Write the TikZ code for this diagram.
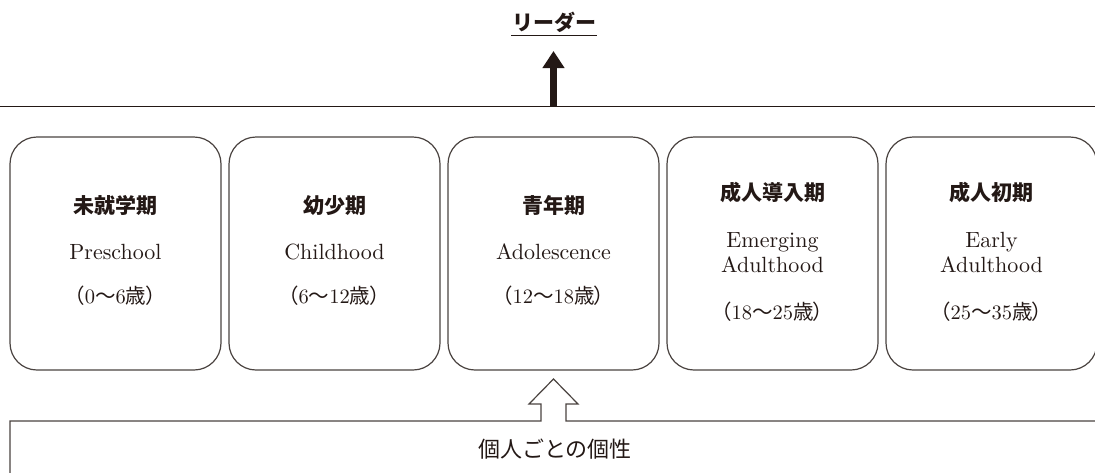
\documentclass[tikz,border=0pt]{standalone}
\usepackage{fontspec}
\usetikzlibrary{arrows.meta}
\newfontfamily\lat{lmroman10-regular}[Extension=.otf]
\newfontfamily\cjk{Noto Sans CJK JP}
\newfontfamily\cjkp[RawFeature=+palt]{Noto Sans CJK JP}
\definecolor{ink}{HTML}{231815}
\definecolor{frame}{HTML}{4A4340}
\begin{document}
\begin{tikzpicture}[x=1pt,y=-1pt,
  stage/.style={draw=frame,line width=1.2pt,rounded corners=27pt,minimum width=211pt,minimum height=233pt,inner sep=0pt},
  ttl/.style={anchor=base,inner sep=0pt,font=\cjk\bfseries\fontsize{21}{25}\selectfont,text=ink},
  eng/.style={anchor=base,inner sep=0pt,font=\lat\fontsize{22}{25}\selectfont,text=ink},
  age/.style={anchor=base,inner sep=0pt,font=\lat\fontsize{20.5}{24}\selectfont,text=ink},
  rule/.style={draw=ink,line width=1.2pt}]
\useasboundingbox (0,0) rectangle (1095,472);
% top title
\node[anchor=base,inner xsep=0.5pt,inner ysep=3pt,font=\cjk\bfseries\fontsize{21}{25}\selectfont,text=ink] (leader) at (554,30.5) {リーダー};
\draw[ink,line width=1pt] (leader.south west) -- (leader.south east);
% horizontal line and top arrow
\coordinate (lineL) at (0,106.5);
\coordinate (lineR) at (1095,106.5);
\draw[rule] (lineL) -- (lineR);
\coordinate (arrowBase) at (553.5,106.5);
\coordinate (arrowTip) at (553.5,51);
\draw[ink,line width=7pt,-{Triangle[width=21pt,length=17pt]}] (arrowBase) -- (arrowTip);
% stage boxes
\foreach \i in {0,...,4}{
  \node[stage] (b\i) at (115.5+219*\i,253.5) {};
}
% box 1
\node[ttl] (t0) at (115.5,213.5) {未就学期};
\node[eng] (e0) at (115.5,259) {Preschool};
\node[age] (a0) at (115.5,303) {{\cjkp （}0{\cjkp 〜}6{\cjkp 歳）}};
% box 2
\node[ttl] (t1) at (334.5,213.5) {幼少期};
\node[eng] (e1) at (334.5,259) {Childhood};
\node[age] (a1) at (334.5,303) {{\cjkp （}6{\cjkp 〜}12{\cjkp 歳）}};
% box 3
\node[ttl] (t2) at (553.5,213.5) {青年期};
\node[eng] (e2) at (553.5,259) {Adolescence};
\node[age] (a2) at (553.5,303) {{\cjkp （}12{\cjkp 〜}18{\cjkp 歳）}};
% box 4
\node[ttl] (t3) at (772.5,200.5) {成人導入期};
\node[eng] (e3) at (772.5,247) {Emerging};
\node[eng] (f3) at (772.5,272) {Adulthood};
\node[age] (a3) at (772.5,319) {{\cjkp （}18{\cjkp 〜}25{\cjkp 歳）}};
% box 5
\node[ttl] (t4) at (991.5,200.5) {成人初期};
\node[eng] (e4) at (991.5,247) {Early};
\node[eng] (f4) at (991.5,272) {Adulthood};
\node[age] (a4) at (991.5,319) {{\cjkp （}25{\cjkp 〜}35{\cjkp 歳）}};
% bottom box with hollow arrow
\draw[draw=frame,line width=1.2pt,fill=white,line join=miter]
  (10,480) -- (10,421) -- (541,421) -- (541,404) -- (529,404) -- (553.5,379)
  -- (578,404) -- (566,404) -- (566,421) -- (1100,421);
\node[anchor=base,inner sep=0pt,font=\cjk\fontsize{22}{26}\selectfont,text=ink] (indiv) at (555,457.5) {個人ごとの個性};
\end{tikzpicture}
\end{document}
